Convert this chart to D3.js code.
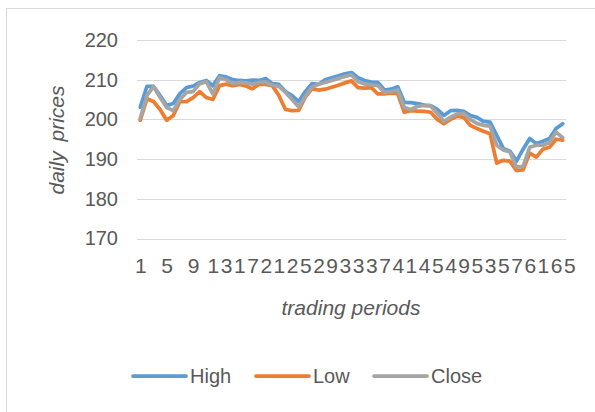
<!DOCTYPE html>
<html>
<head>
<meta charset="utf-8">
<script src="https://cdn.jsdelivr.net/npm/d3@7"></script>
<style>
  body { margin: 0; background: #fff; }
  text { font-family: "Liberation Sans", Arial, sans-serif; fill: #595959; }
</style>
</head>
<body>
<div id="chart"></div>
<script>
// periods 1..65
const periods = d3.range(1, 66);

const high = [203.1, 208.3, 208.3, 206, 203.5, 204, 206.5, 208, 208.4, 209.3,
  209.8, 208.5, 211, 210.7, 210, 209.8, 209.7, 209.9, 209.8, 210.3,
  209, 208.8, 207, 206, 204.5, 207, 209, 208.8, 210, 210.5,
  211, 211.5, 211.8, 210.5, 209.8, 209.4, 209.3, 207.4, 207.6, 208.2,
  204.3, 204.2, 204, 203.6, 203.5, 202.5, 201, 202.2, 202.3, 202,
  201, 200.5, 199.5, 199.3, 196, 192.7, 192, 189.5, 192.5, 195.2,
  193.9, 194.5, 195.2, 197.7, 198.9];

const low = [199.8, 205.2, 204.5, 202.5, 199.8, 201, 204.5, 204.5, 205.5, 207,
  205.5, 205, 208.5, 208.9, 208.5, 208.8, 208.4, 207.7, 208.9, 208.8,
  208.5, 206, 202.5, 202.2, 202.3, 205.6, 207.7, 207.4, 207.6, 208.1,
  208.6, 209.2, 209.7, 208, 207.9, 208, 206.4, 206.4, 206.6, 206.5,
  201.8, 202.2, 202.1, 202, 201.8, 200, 198.9, 200, 200.8, 200.5,
  198.5, 197.7, 197, 196.4, 189, 189.7, 189.5, 187.1, 187.3, 191.5,
  190.5, 192.5, 193, 195, 194.8];

const close = [200.2, 206, 208.3, 205.6, 203, 202.2, 205, 206.8, 207, 209,
  209.5, 206.4, 210.5, 210, 209, 209.3, 209.2, 208.9, 209.3, 209.4,
  208.6, 208.3, 206.8, 205, 203.1, 205.8, 208.1, 208.9, 209.3, 209.8,
  210.3, 210.8, 211.2, 209.5, 208.9, 208.7, 208.5, 206.8, 207, 207.4,
  203, 202.5, 203.3, 203.5, 203.4, 201.5, 199.5, 200.5, 201.4, 201.5,
  200, 199, 198.5, 198.3, 193.5, 192.3, 191.8, 188, 188.2, 193,
  193.5, 193.5, 194.2, 196.8, 195.4];

const yTicks = [170, 180, 190, 200, 210, 220];
const xTickLabels = periods.filter(p => (p - 1) % 4 === 0);

const seriesNames = ["High", "Low", "Close"];
const seriesValues = [high, low, close];
const seriesColors = ["#5B9BD5", "#ED7D31", "#A5A5A5"];

const width = 595, height = 412;

const svg = d3.select("#chart").append("svg")
  .attr("width", width)
  .attr("height", height);

// chart frame
svg.append("rect")
  .attr("x", 6.5).attr("y", 8.5)
  .attr("width", 620).attr("height", 440)
  .attr("fill", "#fff")
  .attr("stroke", "#d9d9d9");

const x = d3.scalePoint()
  .domain(periods)
  .range([137, 566])
  .padding(0.5);

const y = d3.scaleLinear()
  .domain([170, 220])
  .range([238.5, 40]);

// gridlines
svg.append("g")
  .selectAll("line")
  .data(yTicks)
  .join("line")
  .attr("x1", 137).attr("x2", 566)
  .attr("y1", d => Math.round(y(d)) + 0.5)
  .attr("y2", d => Math.round(y(d)) + 0.5)
  .attr("stroke", "#d9d9d9")
  .attr("stroke-width", 1);

// y axis labels
const yAxis = d3.axisLeft(y).tickValues(yTicks).tickSize(0).tickPadding(0);
const yG = svg.append("g")
  .attr("transform", "translate(118,0)")
  .call(yAxis);
yG.select(".domain").remove();
yG.selectAll("text")
  .style("font-size", "20px")
  .attr("fill", "#595959");

// x axis labels (tight, like the original)
const xAxis = d3.axisBottom(x).tickValues(xTickLabels).tickSize(0).tickPadding(0);
const xG = svg.append("g")
  .attr("transform", "translate(0,258)")
  .call(xAxis);
xG.select(".domain").remove();
xG.selectAll("text")
  .style("font-size", "21px")
  .style("letter-spacing", "1.5px")
  .attr("dx", "0.75px")
  .attr("fill", "#595959");

// axis titles
svg.append("text")
  .attr("x", 351).attr("y", 315)
  .attr("text-anchor", "middle")
  .style("font-size", "21px")
  .style("font-style", "italic")
  .text("trading periods");

svg.append("text")
  .attr("transform", "translate(64,140) rotate(-90)")
  .attr("text-anchor", "middle")
  .style("font-size", "21px")
  .style("font-style", "italic")
  .style("word-spacing", "4px")
  .text("daily prices");

// series lines
const line = d3.line()
  .x((d, i) => x(periods[i]))
  .y(d => y(d));

svg.append("g")
  .selectAll("path")
  .data(seriesValues)
  .join("path")
  .attr("d", d => line(d))
  .attr("fill", "none")
  .attr("stroke", (d, i) => seriesColors[i])
  .attr("stroke-width", 3.75)
  .attr("stroke-linejoin", "round")
  .attr("stroke-linecap", "round");

// legend
const legendX = [133, 256, 374];
const legend = svg.append("g")
  .selectAll("g")
  .data(seriesNames)
  .join("g")
  .attr("transform", (d, i) => `translate(${legendX[i]},376)`);

legend.append("line")
  .attr("x1", 0).attr("x2", 53)
  .attr("y1", 0).attr("y2", 0)
  .attr("stroke", (d, i) => seriesColors[i])
  .attr("stroke-width", 3.75)
  .attr("stroke-linecap", "round");

legend.append("text")
  .attr("x", 57).attr("y", 7)
  .style("font-size", "20px")
  .text(d => d);
</script>
</body>
</html>
